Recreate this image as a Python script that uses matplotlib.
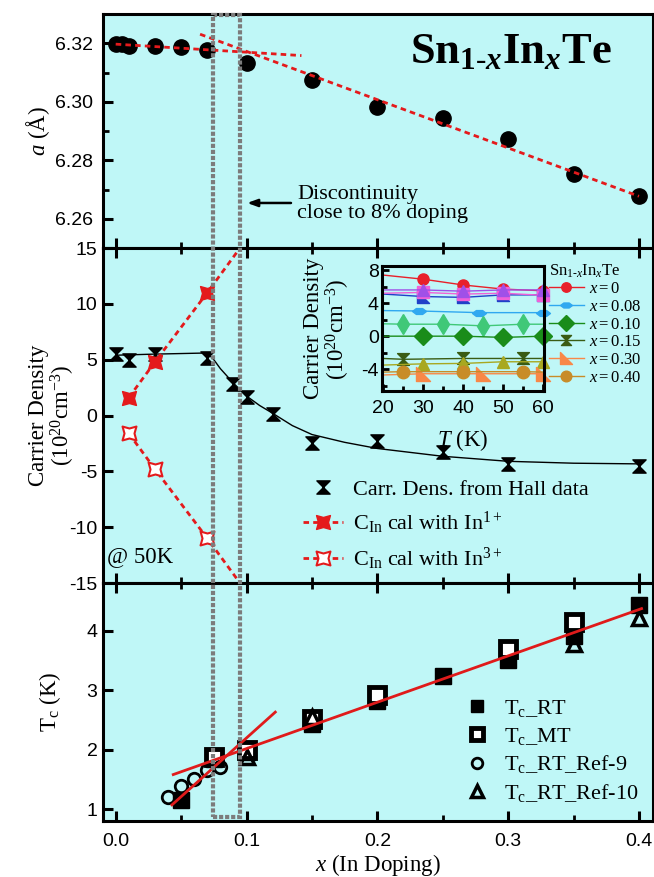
import matplotlib
matplotlib.use('Agg')
import matplotlib.pyplot as plt
from matplotlib.path import Path
from matplotlib.patches import Rectangle
from matplotlib.lines import Line2D
from matplotlib.ticker import MultipleLocator, FormatStrFormatter
from matplotlib.transforms import blended_transform_factory

plt.rcParams['font.family'] = 'Liberation Serif'
plt.rcParams['mathtext.fontset'] = 'custom'
plt.rcParams['mathtext.rm'] = 'Liberation Serif'
plt.rcParams['mathtext.it'] = 'Liberation Serif:italic'
plt.rcParams['mathtext.bf'] = 'Liberation Serif:bold'
plt.rcParams['mathtext.bfit'] = 'Liberation Serif:bold:italic'
plt.rcParams['axes.unicode_minus'] = False

# ---- data: lattice parameter ----
x_lat = [0.0, 0.005, 0.01, 0.03, 0.05, 0.07, 0.1, 0.15, 0.2, 0.25, 0.3, 0.35, 0.4]
a_lat = [6.3198, 6.3196, 6.3192, 6.3190, 6.3187, 6.3176, 6.3132, 6.3076, 6.2983, 6.2945, 6.2872, 6.2753, 6.2679]
fit_low_x = [0.0, 0.142]
fit_low_y = [6.3197, 6.3158]
fit_high_x = [0.0645, 0.4]
fit_high_y = [6.3231, 6.2677]

# ---- data: carrier density at 50 K ----
x_hall = [0.0, 0.01, 0.03, 0.07, 0.09, 0.1, 0.12, 0.15, 0.2, 0.25, 0.3, 0.4]
n_hall = [5.5, 5.0, 5.5, 5.15, 2.85, 1.7, 0.1, -2.5, -2.27, -3.3, -4.3, -4.55]
x_guide = [0.0, 0.03, 0.07, 0.075, 0.08, 0.09, 0.1, 0.11, 0.12, 0.135, 0.15, 0.175, 0.2, 0.25, 0.3, 0.35, 0.4]
n_guide = [5.4, 5.5, 5.6, 5.0, 4.2, 2.9, 1.75, 0.9, 0.2, -0.9, -1.7, -2.4, -2.95, -3.65, -4.1, -4.27, -4.33]
x_in1 = [0.01, 0.03, 0.07, 0.1]
n_in1 = [1.6, 4.8, 11.0, 15.8]
x_in3 = [0.01, 0.03, 0.07, 0.1]
n_in3 = [-1.6, -4.8, -11.0, -15.8]

# ---- data: inset, carrier density vs T ----
T_red = [20, 30, 40, 50, 60]
n_red = [7.4, 6.9, 6.2, 5.7, 5.5]
T_blue = [20, 30, 40, 50, 60]
n_blue = [5.1, 4.8, 4.7, 5.0, 5.0]
T_mag = [20, 30, 40, 50, 60]
n_mag = [5.2, 5.3, 5.1, 5.2, 4.95]
T_purple = [20, 30, 40, 50, 60]
n_purple = [5.6, 5.6, 5.45, 5.6, 5.6]
T_lblue = [20, 29, 44, 60]
n_lblue = [3.1, 3.05, 2.85, 2.85]
T_sea = [20, 25, 35, 45, 55, 60]
n_sea = [1.5, 1.45, 1.45, 1.25, 1.45, 1.45]
T_green = [20, 30, 40, 50, 60]
n_green = [0.0, 0.0, 0.0, -0.15, 0.0]
T_dolive = [20, 25, 40, 55, 60]
n_dolive = [-2.7, -2.8, -2.7, -2.7, -2.7]
T_olive = [20, 30, 40, 50, 60]
n_olive = [-3.5, -3.35, -3.3, -3.1, -3.1]
T_orange = [20, 30, 45, 60]
n_orange = [-4.7, -4.55, -4.55, -4.55]
T_gold = [20, 25, 40, 55, 60]
n_gold = [-4.35, -4.3, -4.3, -4.3, -4.35]

# ---- data: Tc ----
x_rt = [0.05, 0.075, 0.1, 0.15, 0.2, 0.25, 0.3, 0.35, 0.4]
tc_rt = [1.15, 1.84, 1.96, 2.43, 2.81, 3.23, 3.50, 3.91, 4.43]
x_mt = [0.075, 0.1, 0.15, 0.2, 0.3, 0.35]
tc_mt = [1.88, 2.0, 2.52, 2.91, 3.69, 4.14]
x_ref9 = [0.04, 0.05, 0.06, 0.07, 0.08]
tc_ref9 = [1.2, 1.39, 1.5, 1.65, 1.7]
x_ref10 = [0.1, 0.15, 0.35, 0.4]
tc_ref10 = [1.87, 2.55, 3.78, 4.22]
fit_steep_x = [0.043, 0.122]
fit_steep_y = [1.07, 2.63]
fit_slow_x = [0.044, 0.402]
fit_slow_y = [1.58, 4.37]

bg = '#bff7f7'
red = '#e41a1c'
gray = '#7c7c7c'
dash = (0, (2, 1.5))


def closed(verts):
    codes = [Path.MOVETO] + [Path.LINETO] * (len(verts) - 1) + [Path.CLOSEPOLY]
    return Path(list(verts) + [verts[0]], codes)


hourglass = closed([(-1, 1), (1, 1), (-1, -1), (1, -1)])
pinched = closed([(-1, -1), (0, -0.72), (1, -1), (0.72, 0), (1, 1), (0, 0.72), (-1, 1), (-0.72, 0)])
flathex = closed([(-1, 0), (-0.45, 0.42), (0.45, 0.42), (1, 0), (0.45, -0.42), (-0.45, -0.42)])
rtri = closed([(-1, 1), (-1, -1), (1, -1)])

fig = plt.figure(figsize=(6.54, 8.77), dpi=100)
L, W = 0.1575, 0.8405
ax_a = fig.add_axes([L, 0.7172, W, 0.2668])
ax_n = fig.add_axes([L, 0.3352, W, 0.3820], sharex=ax_a)
ax_t = fig.add_axes([L, 0.0639, W, 0.2713], sharex=ax_a)

for ax in (ax_a, ax_n, ax_t):
    ax.set_facecolor(bg)
    for s in ax.spines.values():
        s.set_linewidth(2.2)
    ax.tick_params(which='both', direction='in', top=True, bottom=True, right=False,
                   labelbottom=False, labelsize=14, labelfontfamily='Liberation Sans')
    ax.tick_params(which='major', length=7.5, width=2.2)
    ax.tick_params(which='minor', length=4.5, width=2.0)
ax_a.tick_params(which='both', top=False)
ax_a.tick_params(axis='y', pad=7)
ax_n.tick_params(axis='y', pad=4)
ax_t.tick_params(axis='y', pad=4)
ax_t.tick_params(axis='x', labelbottom=True, pad=9)

ax_a.set_xlim(-0.0097, 0.4105)
ax_a.xaxis.set_major_locator(MultipleLocator(0.1))
ax_a.xaxis.set_minor_locator(MultipleLocator(0.05))
ax_t.xaxis.set_major_formatter(FormatStrFormatter('%.1f'))

# top: lattice parameter
ax_a.plot(x_lat, a_lat, 'o', color='black', ms=11, zorder=3)
ax_a.plot(fit_low_x, fit_low_y, color=red, lw=2, ls=dash, zorder=4)
ax_a.plot(fit_high_x, fit_high_y, color=red, lw=2, ls=dash, zorder=4)
ax_a.set_ylim(6.25, 6.33)
ax_a.yaxis.set_major_locator(MultipleLocator(0.02))
ax_a.yaxis.set_minor_locator(MultipleLocator(0.01))
ax_a.yaxis.set_major_formatter(FormatStrFormatter('%.2f'))
ax_a.set_ylabel(r'$a$ (Å)', fontsize=16.5)
ax_a.yaxis.set_label_coords(-0.093, 0.5)
ax_a.text(0.926, 0.789, r'$\mathbf{Sn}_{\mathbf{1}\text{-}\mathbfit{x}}\mathbf{In}_{\mathbfit{x}}\mathbf{Te}$',
          transform=ax_a.transAxes, ha='right', va='baseline', fontsize=32)
ax_a.text(0.1386, 6.2649, 'Discontinuity\nclose to 8% doping', fontsize=16, va='center', ha='left',
          linespacing=1.0)
ax_a.annotate('', xy=(0.1005, 6.2654), xytext=(0.134, 6.2654),
              arrowprops=dict(arrowstyle='-|>,head_length=0.6,head_width=0.22', color='black',
                              lw=1.8, shrinkA=0, shrinkB=0))

# middle: carrier density
ax_n.plot(x_guide, n_guide, color='black', lw=1, zorder=2)
ax_n.plot(x_hall, n_hall, ls='none', marker=hourglass, color='black', ms=9.5, zorder=3,
          label='Carr. Dens. from Hall data')
ax_n.plot(x_in1, n_in1, color=red, lw=2, ls=dash, marker=pinched, ms=10, mfc=red, mec=red,
          zorder=4, label=r'C$_{\rm In}$ cal with In$^{1+}$')
ax_n.plot(x_in3, n_in3, color=red, lw=2, ls=dash, marker=pinched, ms=10, mfc='white', mec=red,
          mew=1.5, zorder=4, label=r'C$_{\rm In}$ cal with In$^{3+}$')
ax_n.set_ylim(-15, 15)
ax_n.yaxis.set_major_locator(MultipleLocator(5))
ax_n.set_ylabel('Carrier Density\n(10$^{20}$cm$^{-3}$)', fontsize=16.5, linespacing=1.0)
ax_n.yaxis.set_label_coords(-0.047, 0.5)
ax_n.text(-0.0067, -12.65, '@ 50K', fontsize=16.5, va='center', ha='left')
ax_n.legend(loc='upper left', bbox_to_anchor=(0.364, 0.31), frameon=False, fontsize=16,
            handlelength=1.8, handletextpad=0.45, labelspacing=0.45, borderpad=0,
            borderaxespad=0, numpoints=1)

# inset
ins = fig.add_axes([0.5836, 0.5536, 0.2482, 0.1431])
ins.set_facecolor(bg)
for s in ins.spines.values():
    s.set_linewidth(2.2)
ins.tick_params(which='both', direction='in', top=False, right=False, labelsize=14,
                labelfontfamily='Liberation Sans')
ins.tick_params(which='major', length=5, width=2)
ins.tick_params(which='minor', length=3.5, width=2)
ins.tick_params(axis='y', pad=2)
ins.tick_params(axis='x', pad=6)
ins.set_xlim(19.6, 60.2)
ins.set_ylim(-6.7, 8.5)
ins.xaxis.set_major_locator(MultipleLocator(10))
ins.xaxis.set_minor_locator(MultipleLocator(5))
ins.yaxis.set_major_locator(MultipleLocator(4))
ins.yaxis.set_minor_locator(MultipleLocator(2))

# (T, n, colour, marker, size, legend label, indices that carry a marker)
inset_series = [
    (T_red, n_red, '#e8202a', 'o', 8, r'$x = 0$', [1, 2, 3, 4]),
    (T_blue, n_blue, '#2040c8', rtri, 8, None, [1, 2, 3, 4]),
    (T_mag, n_mag, '#f060d8', 's', 8.5, None, [1, 2, 3, 4]),
    (T_purple, n_purple, '#a050e8', '^', 9, None, [1, 2, 3, 4]),
    (T_lblue, n_lblue, '#30a8f0', flathex, 10, r'$x = 0.08$', [1, 2, 3]),
    (T_sea, n_sea, '#40c878', 'd', 10, None, [1, 2, 3, 4]),
    (T_green, n_green, '#1a8c1a', 'D', 9, r'$x = 0.10$', [1, 2, 3, 4]),
    (T_dolive, n_dolive, '#3a5c14', hourglass, 8.5, r'$x = 0.15$', [1, 2, 3]),
    (T_olive, n_olive, '#a8a820', '^', 9, None, [1, 2, 3, 4]),
    (T_orange, n_orange, '#f88848', rtri, 10, r'$x = 0.30$', [1, 2, 3]),
    (T_gold, n_gold, '#c88c28', 'o', 9, r'$x = 0.40$', [1, 2, 3]),
]
inset_handles = []
inset_labels = []
for T, n, c, m, ms, lab, marks in inset_series:
    ins.plot(T, n, color=c, lw=1, marker=m, ms=ms, mfc=c, mec=c, markevery=marks, clip_on=False)
    if lab:
        inset_handles.append(Line2D([], [], color=c, lw=1, marker=m, ms=ms, mfc=c, mec=c))
        inset_labels.append(lab)
ins.set_ylabel('Carrier Density\n(10$^{20}$cm$^{-3}$)', fontsize=16.5, linespacing=1.0)
ins.yaxis.set_label_coords(-0.18, 0.5)
ins.set_xlabel(r'$T$ (K)', fontsize=16.5)
ins.xaxis.set_label_coords(0.5, -0.283)
ins.legend(inset_handles, inset_labels,
           title=r'Sn$_{1\text{-}x}$In$_x$Te', title_fontsize=12, alignment='left',
           loc='upper left', bbox_to_anchor=(1.03, 1.03), frameon=False, fontsize=12,
           handlelength=2.1, handletextpad=0.3, labelspacing=0.1, borderpad=0,
           borderaxespad=0, numpoints=1, markerscale=0.85)

# bottom: Tc
ax_t.plot(x_rt, tc_rt, 's', color='black', ms=11, zorder=3, label=r'T$_{\rm c}$_RT')
ax_t.plot(x_mt, tc_mt, 's', mfc='white', mec='black', mew=3.5, ms=11, zorder=3,
          label=r'T$_{\rm c}$_MT')
ax_t.plot(x_ref9, tc_ref9, 'o', mfc='none', mec='black', mew=2, ms=9, zorder=3,
          label=r'T$_{\rm c}$_RT_Ref-9')
ax_t.plot(x_ref10, tc_ref10, '^', mfc='none', mec='black', mew=2.5, ms=10, zorder=3,
          label=r'T$_{\rm c}$_RT_Ref-10')
ax_t.plot(fit_steep_x, fit_steep_y, color='#e01b1b', lw=2, zorder=4)
ax_t.plot(fit_slow_x, fit_slow_y, color='#e01b1b', lw=2, zorder=4)
ax_t.set_ylim(0.8, 4.8)
ax_t.yaxis.set_major_locator(MultipleLocator(1))
ax_t.set_ylabel(r'T$_{\rm c}$ (K)', fontsize=16.5)
ax_t.yaxis.set_label_coords(-0.073, 0.5)
ax_t.set_xlabel(r'$x$ (In Doping)', fontsize=16.5)
ax_t.xaxis.set_label_coords(0.5, -0.13)
ax_t.legend(loc='upper left', bbox_to_anchor=(0.66, 0.517), frameon=False, fontsize=16,
            handlelength=1.0, handletextpad=0.7, labelspacing=0.3, borderpad=0,
            borderaxespad=0, numpoints=1, markerscale=0.85)

# dotted box marking the discontinuity, across all three panels
tr = blended_transform_factory(ax_t.transData, fig.transFigure)
fig.add_artist(Rectangle((0.0746, 0.0684), 0.0204, 0.9145, transform=tr, fill=False,
                         edgecolor=gray, lw=3.0, linestyle=(0, (1.0, 0.45)), zorder=5))

fig.savefig('out.png', dpi=100)
